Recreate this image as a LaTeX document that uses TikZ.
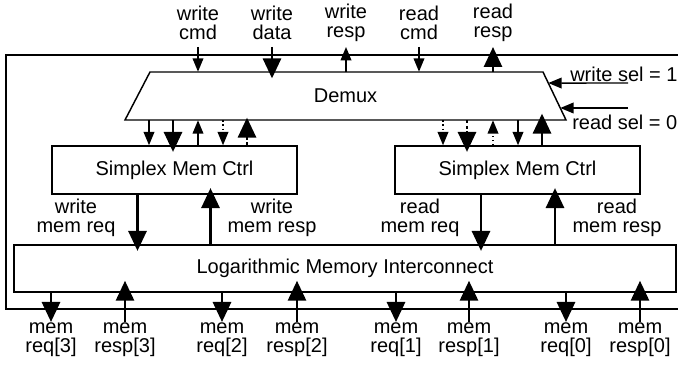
\documentclass[tikz,border=0pt]{standalone}
\usepackage{fontspec}
\setmainfont{Liberation Sans}
\usetikzlibrary{arrows.meta, calc}

\tikzset{
  box/.style={draw, line width=1.1pt, minimum height=36pt, inner sep=0pt},
  lbl/.style={align=center, inner sep=0pt},
  sig/.style={line width=1.1pt, -{Triangle[length=10pt, width=8pt]}},
  bus/.style={line width=2.2pt, -{Triangle[length=15pt, width=13.5pt]}, shorten >=-5pt},
}

\begin{document}
\begin{tikzpicture}[x=0.75pt, y=-0.75pt, font=\fontsize{15}{14.25}\selectfont]
  \clip (0,0) rectangle (678,366);

  % outer frame, runs off to the right
  \draw[line width=1.1pt] (6,55) rectangle (720,309);

  % demux outline
  \coordinate (dtl) at (150,72);
  \coordinate (dtr) at (543,72);
  \coordinate (dbr) at (566,120);
  \coordinate (dbl) at (125,120);
  \draw[line width=1.1pt] (dtl) -- (dtr) -- (dbr) -- (dbl) -- cycle;
  \node[minimum width=330.75pt, minimum height=36pt, inner sep=0pt] (demux) at (345.5,96) {Demux};

  \node[box, minimum width=183.75pt] (wctrl) at (174.5,170) {Simplex Mem Ctrl};
  \node[box, minimum width=183.75pt] (rctrl) at (517.5,170) {Simplex Mem Ctrl};
  \node[box, minimum width=496.5pt, minimum height=35.25pt] (icn) at (345,268.5) {Logarithmic Memory Interconnect};

  % host side
  \node[lbl] (wcmd) at (198,22.5) {write\\cmd};
  \node[lbl] (wdata) at (272,22.5) {write\\data};
  \node[lbl] (wresp) at (346,22.5) {write\\resp};
  \node[lbl] (rcmd) at (419,22.5) {read\\cmd};
  \node[lbl] (rresp) at (493,22.5) {read\\resp};
  \coordinate (top) at (0,47);

  \draw[sig] (wcmd |- top) -- (wcmd |- demux.north);
  \draw[bus] (wdata |- top) -- (wdata |- demux.north);
  \draw[sig] (wresp |- demux.north) -- (wresp |- top);
  \draw[sig] (rcmd |- top) -- (rcmd |- demux.north);
  \draw[bus, shorten >=0pt] (rresp |- demux.north) -- (rresp |- top);

  % select inputs
  \node[lbl, anchor=west] (wsellbl) at (570,74) {write sel = 1};
  \node[lbl, anchor=west] (rsellbl) at (572,122) {read sel = 0};
  \coordinate (wsel) at (628,83);
  \coordinate (rsel) at (628,108);
  \draw[sig] (wsel) -- ($(dtr)!0.23!(dbr)$);
  \draw[sig] (rsel) -- ($(dtr)!0.75!(dbr)$);

  % demux to controllers
  \draw[sig] (149,0 |- demux.south) -- (149,0 |- wctrl.north);
  \draw[bus] (173,0 |- demux.south) -- (173,0 |- wctrl.north);
  \draw[sig] (198,0 |- wctrl.north) -- (198,0 |- demux.south);
  \draw[sig, dotted] (223,0 |- demux.south) -- (223,0 |- wctrl.north);
  \draw[bus, dotted, shorten >=-2pt] (247,0 |- wctrl.north) -- (247,0 |- demux.south);
  \draw[sig, dotted] (443,0 |- demux.south) -- (443,0 |- rctrl.north);
  \draw[bus, dotted] (467,0 |- demux.south) -- (467,0 |- rctrl.north);
  \draw[sig, dotted] (493,0 |- rctrl.north) -- (493,0 |- demux.south);
  \draw[sig] (518,0 |- demux.south) -- (518,0 |- rctrl.north);
  \draw[bus] (542,0 |- rctrl.north) -- (542,0 |- demux.south);

  % controllers to interconnect
  \node[lbl] (wreqlbl) at (76,218) {write\\mem req};
  \node[lbl] (wresplbl) at (272,218) {write\\mem resp};
  \node[lbl] (rreqlbl) at (420,218) {read\\mem req};
  \node[lbl] (rresplbl) at (617,218) {read\\mem resp};
  \draw[bus] (137.5,0 |- wctrl.south) -- (137.5,0 |- icn.north);
  \draw[bus] (210.5,0 |- icn.north) -- (210.5,0 |- wctrl.south);
  \draw[bus] (481,0 |- rctrl.south) -- (481,0 |- icn.north);
  \draw[bus] (555,0 |- icn.north) -- (555,0 |- rctrl.south);

  % memory ports
  \coordinate (bot) at (0,322);
  \foreach \i/\xq/\xp in {3/51/125, 2/222/297, 1/396/469, 0/566/640} {
    \node[lbl] (mreq\i) at (\xq,340) {mem\\req[\i]};
    \node[lbl] (mresp\i) at (\xp,340) {mem\\resp[\i]};
    \draw[bus, shorten >=0pt] (mreq\i |- icn.south) -- (mreq\i |- bot);
    \draw[bus, shorten >=-9pt] (mresp\i |- bot) -- (mresp\i |- icn.south);
  }
\end{tikzpicture}
\end{document}
